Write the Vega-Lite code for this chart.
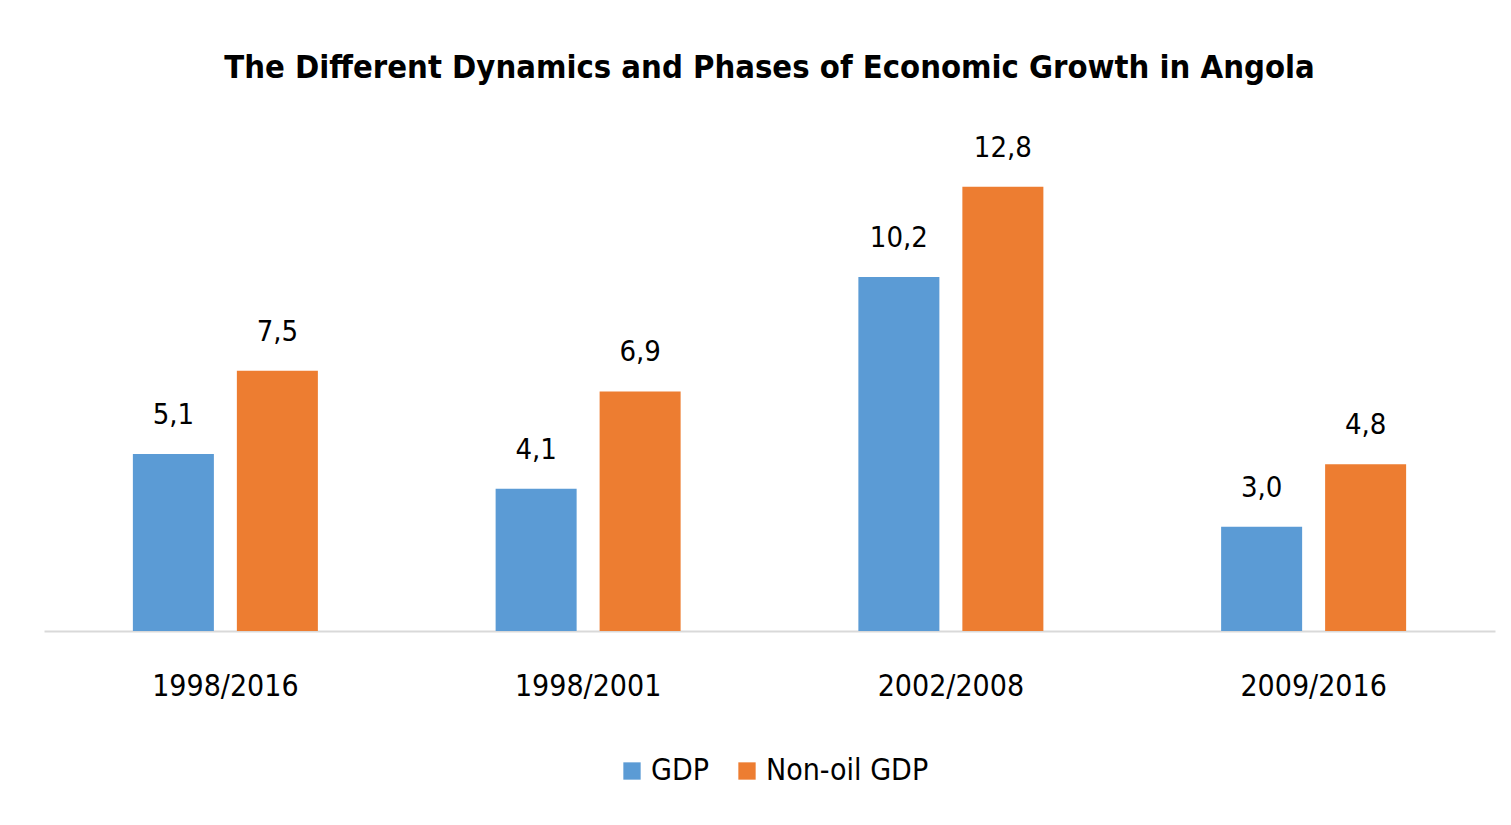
{
  "$schema": "https://vega.github.io/schema/vega-lite/v6.json",
  "autosize": "none",
  "width": 1451,
  "height": 486,
  "padding": {"left": 44, "top": 145, "right": 16, "bottom": 194},
  "background": "white",
  "config": {
    "view": {"stroke": null},
    "font": "DejaVu Sans Condensed",
    "locale": {"number": {"decimal": ",", "thousands": ".", "grouping": [3], "currency": ["", ""]}}
  },
  "title": {
    "text": "The Different Dynamics and Phases of Economic Growth in Angola",
    "font": "DejaVu Sans Condensed",
    "fontSize": 32.5,
    "fontWeight": "bold",
    "color": "#000000",
    "anchor": "middle",
    "offset": 49
  },
  "data": {
    "values": [
      {"period": "1998/2016", "series": "GDP", "value": 5.1},
      {"period": "1998/2016", "series": "Non-oil GDP", "value": 7.5},
      {"period": "1998/2001", "series": "GDP", "value": 4.1},
      {"period": "1998/2001", "series": "Non-oil GDP", "value": 6.9},
      {"period": "2002/2008", "series": "GDP", "value": 10.2},
      {"period": "2002/2008", "series": "Non-oil GDP", "value": 12.8},
      {"period": "2009/2016", "series": "GDP", "value": 3.0},
      {"period": "2009/2016", "series": "Non-oil GDP", "value": 4.8}
    ]
  },
  "encoding": {
    "x": {
      "field": "period", "type": "nominal", "sort": null,
      "scale": {"paddingInner": 0.49, "paddingOuter": 0.245},
      "axis": {
        "title": null, "labelAngle": 0, "ticks": false,
        "domainColor": "#d9d9d9", "domainWidth": 2,
        "labelFontSize": 30, "labelColor": "#000000", "labelPadding": 40
      }
    },
    "xOffset": {
      "field": "series", "type": "nominal",
      "scale": {"paddingInner": 0.221, "paddingOuter": 0}
    },
    "y": {
      "field": "value", "type": "quantitative",
      "scale": {"domain": [0, 14], "nice": false},
      "axis": null
    }
  },
  "layer": [
    {
      "mark": {"type": "bar"},
      "encoding": {
        "color": {
          "field": "series", "type": "nominal",
          "scale": {"domain": ["GDP", "Non-oil GDP"], "range": ["#5B9BD5", "#ED7D31"]},
          "legend": {
            "title": null, "orient": "none", "direction": "horizontal",
            "legendX": 573, "legendY": 611,
            "symbolType": "square", "symbolSize": 300, "symbolStrokeWidth": 0,
            "labelFontSize": 30, "labelColor": "#000000", "labelLimit": 400,
            "columnPadding": 23, "labelOffset": 4
          }
        }
      }
    },
    {
      "mark": {"type": "text", "baseline": "bottom", "dy": -24, "fontSize": 29, "color": "#000000"},
      "encoding": {
        "text": {"field": "value", "type": "quantitative", "format": ".1f"}
      }
    }
  ]
}
